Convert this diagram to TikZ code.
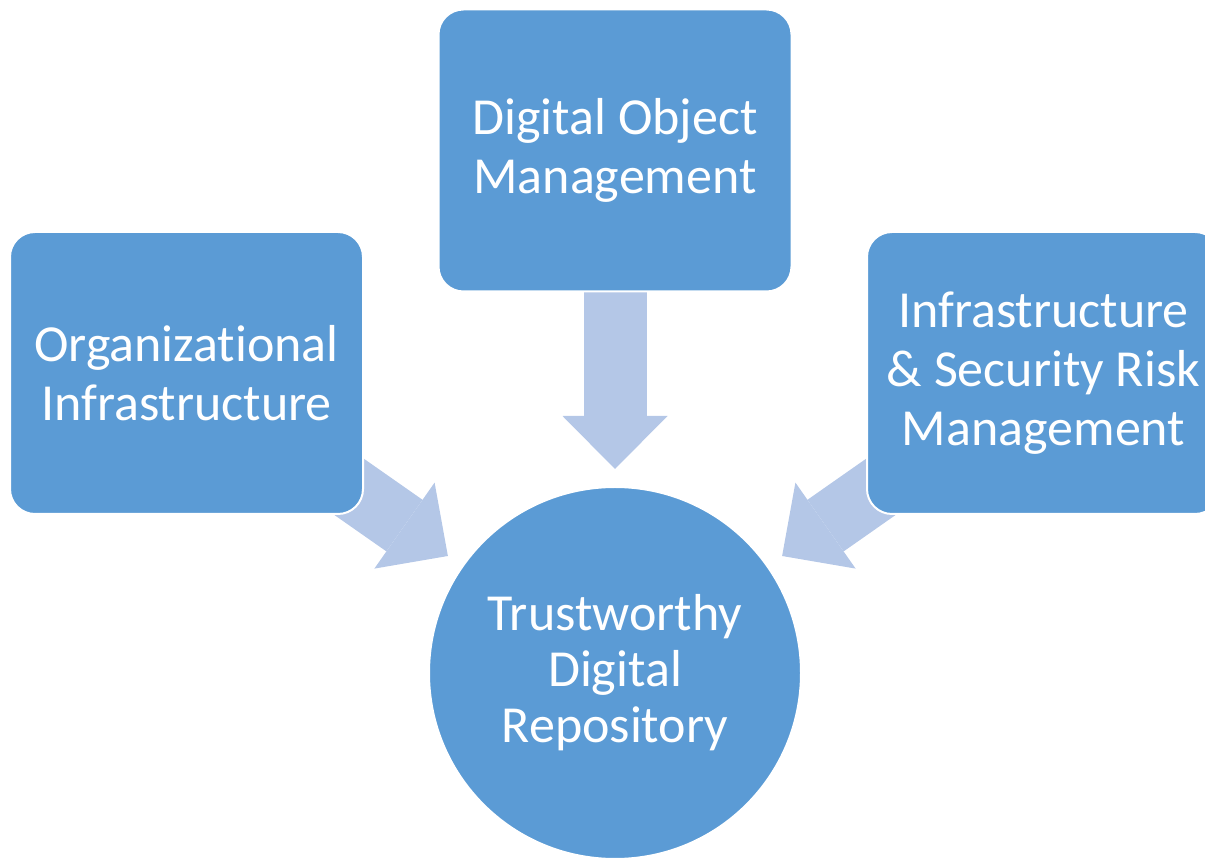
\documentclass[tikz,border=0pt]{standalone}
\usepackage{fontspec}
\setmainfont{Carlito}[Ligatures=NoCommon]
\usetikzlibrary{arrows.meta,backgrounds}
\definecolor{boxblue}{HTML}{5B9BD5}
\definecolor{arrowblue}{HTML}{B4C7E7}

\begin{document}
\begin{tikzpicture}[x=0.5pt, y=0.5pt,
  box/.style={draw=white, line width=1pt, fill=boxblue, rounded corners=12.5pt,
    minimum width=176.5pt, minimum height=141pt, text=white, align=center,
    font=\fontsize{26}{29.5}\selectfont},
  hub/.style={circle, draw=white, line width=1pt, fill=boxblue, minimum size=186pt,
    text=white, align=center, font=\fontsize{26}{28}\selectfont},
  blockarrow/.style={draw=arrowblue, line width=31.5pt,
    -{Triangle[length=26.5pt, width=52.5pt, line width=0pt]}, shorten >=8.5pt}]
  \useasboundingbox (0,0) rectangle (1205,857);
  \node[box] (dom) at (615,706.5) {Digital Object\\Management};
  \node[box] (org) at (186.5,484) {Organizational\\Infrastructure};
  \node[box] (isr) at (1043.5,484) {Infrastructure\\\& Security Risk\\Management};
  \node[hub] (trust) at (615,184) {Trustworthy\\Digital\\Repository};
  \begin{scope}[on background layer]
    \draw[blockarrow] (dom.center) -- (trust);
    \draw[blockarrow] (org.center) -- (trust);
    \draw[blockarrow] (isr.center) -- (trust);
  \end{scope}
\end{tikzpicture}
\end{document}
